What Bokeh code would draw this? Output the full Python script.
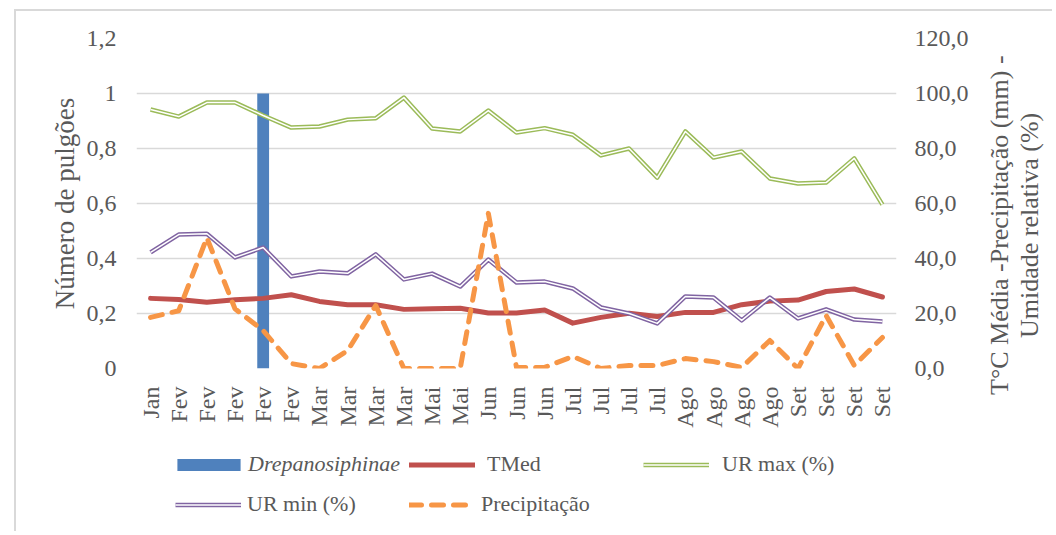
import math
from bokeh.plotting import figure
from bokeh.layouts import row, column
from bokeh.models import (Range1d, LinearAxis, Legend, LegendItem, CustomJSTickFormatter,
                          FixedTicker, ColumnDataSource, Div)
from bokeh.embed import file_html
from bokeh.resources import INLINE

# ---------------- data ----------------
months = ["Jan", "Fev", "Fev", "Fev", "Fev", "Fev", "Mar", "Mar", "Mar", "Mar", "Mai", "Mai",
          "Jun", "Jun", "Jun", "Jul", "Jul", "Jul", "Jul", "Ago", "Ago", "Ago", "Ago",
          "Set", "Set", "Set", "Set"]
drepanosiphinae = [0, 0, 0, 0, 1, 0, 0, 0, 0, 0, 0, 0, 0, 0, 0, 0, 0, 0, 0, 0, 0, 0, 0, 0, 0, 0, 0]
tmed = [25.5, 25.1, 24.1, 25.0, 25.5, 26.8, 24.4, 23.2, 23.2, 21.5, 21.7, 21.9, 20.2, 20.2,
        21.3, 16.5, 18.6, 20.1, 18.9, 20.4, 20.4, 23.2, 24.5, 24.9, 28.0, 28.9, 26.0]
ur_max = [94.2, 91.6, 96.7, 96.7, 92.0, 87.6, 88.0, 90.5, 91.0, 98.5, 87.3, 86.2, 93.8, 85.8,
          87.4, 85.0, 77.5, 80.0, 69.4, 86.2, 76.7, 78.9, 69.1, 67.3, 67.6, 76.4, 59.6]
ur_min = [42.2, 48.7, 49.0, 40.4, 44.0, 33.5, 35.3, 34.6, 41.5, 32.4, 34.5, 29.8, 39.6, 31.3,
          31.6, 29.1, 22.2, 20.0, 16.4, 26.2, 25.8, 17.5, 25.8, 18.2, 21.5, 17.8, 17.1]
precip = [18.6, 21.0, 47.5, 21.7, 13.8, 1.8, 0.0, 6.5, 22.9, 0.0, 0.0, 0.0, 56.4, 0.4,
          0.4, 4.4, 0.0, 1.1, 1.1, 3.6, 2.5, 0.4, 10.2, 0.0, 19.3, 1.1, 11.3]
left_ticks = [0, 0.2, 0.4, 0.6, 0.8, 1.0, 1.2]
right_ticks = [0, 20, 40, 60, 80, 100, 120]
right_title = ["T°C Média -Precipitação (mm) -", "Umidade relativa (%)"]

xs = list(range(len(months)))
src = ColumnDataSource(dict(x=xs, bar=drepanosiphinae, tmed=tmed, ur_max=ur_max,
                            ur_min=ur_min, precip=precip))

FONT = "Liberation Serif"
GREY = "#595959"
C_BAR, C_TMED, C_MAX, C_MIN, C_PR = "#4F81BD", "#C0504D", "#9BBB59", "#8064A2", "#F79646"

STY = {
    "bar": dict(fill_color=C_BAR, line_color=None),
    "tmed": dict(line_color=C_TMED, line_width=5, line_join="round", line_cap="round"),
    "max_o": dict(line_color=C_MAX, line_width=4.5, line_join="round"),
    "max_i": dict(line_color="white", line_width=1.5, line_join="round"),
    "min_o": dict(line_color=C_MIN, line_width=4.5, line_join="round"),
    "min_i": dict(line_color="white", line_width=1.5, line_join="round"),
    "pr": dict(line_color=C_PR, line_width=5, line_dash="12 10", line_cap="round",
               line_join="round"),
}

# ---------------- main chart ----------------
p = figure(width=969, height=429, frame_width=760, frame_height=330,
           min_border_left=120, min_border_right=89, min_border_top=27, min_border_bottom=72,
           x_range=Range1d(-0.5, len(months) - 0.5), y_range=Range1d(0, 1.2),
           output_backend="svg", toolbar_location=None)
p.outline_line_color = None
p.extra_y_ranges = {"right": Range1d(0, 120)}

p.xgrid.grid_line_color = None
p.ygrid.grid_line_color = "#D9D9D9"
p.ygrid.grid_line_width = 1.3

xa = p.xaxis[0]
xa.ticker = FixedTicker(ticks=xs)
xa.major_label_overrides = {i: m for i, m in enumerate(months)}
xa.major_label_orientation = math.pi / 2
xa.major_label_standoff = 12

ya = p.yaxis[0]
ya.ticker = FixedTicker(ticks=left_ticks)
ya.formatter = CustomJSTickFormatter(code="""
    const s = (Math.round(tick*10)/10).toString();
    return s.replace('.', ',');
""")
ya.axis_label = "Número de pulgões"
ya.axis_label_standoff = 4
ya.major_label_standoff = 14

ra = LinearAxis(y_range_name="right", ticker=FixedTicker(ticks=right_ticks),
                formatter=CustomJSTickFormatter(code="return tick.toFixed(1).replace('.', ',');"))
ra.major_label_standoff = 12
p.add_layout(ra, "right")

for ax in [xa, ya, ra]:
    ax.axis_line_color = None
    ax.major_tick_line_color = None
    ax.minor_tick_line_color = None
    ax.major_label_text_font = FONT
    ax.major_label_text_font_size = "24px"
    ax.major_label_text_color = GREY
    ax.axis_label_text_font = FONT
    ax.axis_label_text_font_size = "27px"
    ax.axis_label_text_font_style = "normal"
    ax.axis_label_text_color = GREY

p.vbar(x="x", top="bar", width=0.42, source=src, **STY["bar"])
p.line("x", "tmed", source=src, y_range_name="right", **STY["tmed"])
p.line("x", "ur_max", source=src, y_range_name="right", **STY["max_o"])
p.line("x", "ur_max", source=src, y_range_name="right", **STY["max_i"])
p.line("x", "ur_min", source=src, y_range_name="right", **STY["min_o"])
p.line("x", "ur_min", source=src, y_range_name="right", **STY["min_i"])
p.line("x", "precip", source=src, y_range_name="right", **STY["pr"])

# ---------------- right axis title (two lines, reads bottom-to-top) ----------------
t = Div(text="<br>".join(right_title), width=67, height=429, margin=0,
        styles={"writing-mode": "vertical-rl", "transform": "rotate(180deg)",
                "font-family": "'Liberation Serif'", "font-size": "26px",
                "line-height": "30px", "color": GREY, "text-align": "center",
                "white-space": "nowrap"})

# ---------------- legend (separate strip, invisible proxy renderers) ----------------
lf = figure(width=1036, height=91, x_range=Range1d(0, 1036), y_range=Range1d(0, 91),
            min_border=0, x_axis_type=None, y_axis_type=None, output_backend="svg",
            toolbar_location=None)
lf.outline_line_color = None
lf.grid.grid_line_color = None
lb = lf.vbar(x="x", top="bar", width=0.42, source=src, visible=False, **STY["bar"])
lt = lf.line("x", "tmed", source=src, visible=False, **STY["tmed"])
lg1 = lf.line("x", "ur_max", source=src, visible=False, **STY["max_o"])
lg2 = lf.line("x", "ur_max", source=src, visible=False, **STY["max_i"])
lu1 = lf.line("x", "ur_min", source=src, visible=False, **STY["min_o"])
lu2 = lf.line("x", "ur_min", source=src, visible=False, **STY["min_i"])
lpr = lf.line("x", "precip", source=src, visible=False, **STY["pr"])


def add_legend(label, renderers, vx, vy, gw, standoff, italic=False):
    lg = Legend(items=[LegendItem(label=label, renderers=renderers)], location=(vx, vy),
                glyph_width=gw, glyph_height=15, label_height=15, label_standoff=standoff,
                padding=0, margin=0, spacing=0, border_line_alpha=0,
                background_fill_alpha=0, inactive_fill_alpha=0,
                label_text_font=FONT, label_text_font_size="22px",
                label_text_color=GREY,
                label_text_font_style="italic" if italic else "normal")
    lf.add_layout(lg, "center")


add_legend("Drepanosiphinae", [lb], 153, 54, 79, 0, italic=True)
add_legend("TMed", [lt], 393, 54, 66, 12)
add_legend("UR max (%)", [lg1, lg2], 627, 54, 66, 13)
add_legend("UR min (%)", [lu1, lu2], 159, 14, 66, 6)
add_legend("Precipitação", [lpr], 393, 14, 66, 6)

layout = column(row(p, t), lf,
                styles={"border-left": "2px solid #D9D9D9", "border-top": "2px solid #D9D9D9",
                        "margin-left": "14px", "margin-top": "9px"})

open("out.html", "w").write(file_html(layout, INLINE))
